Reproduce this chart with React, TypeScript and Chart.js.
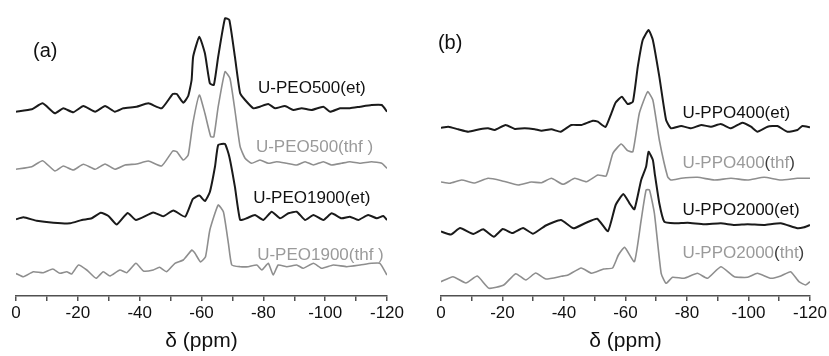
import React, { useEffect, useRef } from 'react';
import { Chart, registerables } from 'chart.js';

Chart.register(...registerables);

const FONT = '"Liberation Sans", Arial, Helvetica, sans-serif';
const BLACK_LINE = '#1a1a1a';
const GRAY_LINE = '#8e8e8e';
const BLACK_TEXT = '#111111';
const GRAY_TEXT = '#9a9a9a';
const PAREN_DARK = '#3c3c3c';

// x axis: chemical shift δ (ppm)
const X_MIN = -120;
const X_MAX = 0;
const X_STEP = 10;
const X_LABEL_STEP = 20;

// ---------- Panel (a) ----------
const peo500etPpm = [0, -5.1, -8.6, -12.6, -15.3, -18.5, -21.8, -25.6, -28.8, -32.0, -34.7, -39.0, -42.8, -47.1, -50.7, -52.0, -54.1, -55.7, -56.8, -57.3, -59.3, -61.1, -62.7, -64.0, -65.4, -67.6, -69.0, -70.8, -72.5, -74.1, -76.8, -78.9, -81.6, -83.8, -87.0, -89.7, -92.4, -95.6, -99.4, -101.6, -104.8, -108.0, -111.3, -115.0, -118.3, -120];
const peo500etInt = [-1.7, 0.7, 6.7, -3.3, 1.7, -2.3, 4, -1.7, 4, -1.7, 1.7, 3.3, 6.7, 1.7, 16, 16, 7.3, 14, 30, 53.3, 73.3, 56.7, 26.7, 25, 53.3, 91.7, 90, 53.3, 16.7, 10, 1.7, 3.3, 6, 1.7, 4, 0, 1.7, 0, 3.3, -1.7, 1.7, 1.7, 3.3, 5, 5, -1.7];

const peo500thfPpm = [0, -5.1, -8.6, -12.6, -15.3, -18.5, -21.8, -25.6, -28.8, -32.0, -35.3, -39.0, -42.8, -47.1, -50.7, -52.0, -54.1, -55.7, -57.2, -59.3, -61.1, -63.0, -64.0, -65.4, -67.6, -69.2, -70.8, -72.5, -74.1, -76.2, -78.9, -81.6, -84.3, -87.6, -90.8, -93.5, -96.2, -99.4, -102.1, -105.3, -108.0, -111.3, -115.0, -118.3, -120];
const peo500thfInt = [-3.3, -0.7, 5.3, -5, 0, -4, 1.7, -3.3, 2, -3.3, 1, 2, 5, 0, 15, 14.3, 6, 11, 42.7, 71, 52.7, 29.3, 29.3, 59.3, 94.3, 87.7, 56, 19.3, 7.7, 2.7, 6, 2.7, 4.3, 2.7, 1, 4.3, 1, 4.3, 1, 2.7, 4.3, 2.7, 4.3, 2.7, -2.3];

const peo1900etPpm = [0, -2.4, -6.7, -12.1, -17.5, -21.3, -24.5, -27.4, -29.9, -32.6, -36.1, -38.8, -44.4, -47.6, -50.9, -54.7, -57.2, -59.3, -61.1, -62.7, -64.4, -65.4, -67.6, -69.0, -70.8, -72.5, -74.6, -77.3, -80.0, -82.7, -85.4, -88.1, -90.8, -93.5, -96.2, -99.4, -102.1, -105.3, -108.0, -110.7, -113.9, -116.7, -118.8, -120];
const peo1900etInt = [-2.3, -0.3, -3.7, -5.7, -6.3, -3, -1.3, 4.3, 1, -7.5, 4, -3, 4.5, 0.7, 6.5, 0.3, 18, 21.5, 16, 25, 51, 72, 73, 60.3, 30.3, -3, -1.3, 2, -3, 5.3, -1.3, 3.7, 5.3, -3, 2, -3, 3.7, -1.3, 0.3, -3, 2, -1.3, 1, -3];

const peo1900thfPpm = [0, -2.4, -5.6, -8.8, -11.9, -14.2, -16.4, -18.0, -20.2, -22.9, -25.9, -28.2, -30.4, -33.6, -35.8, -38.8, -41.2, -44.4, -46.4, -48.7, -51.4, -54.1, -56.9, -57.9, -59.7, -61.3, -62.7, -65.4, -67.1, -68.7, -69.8, -72.5, -75.1, -77.9, -79.5, -81.6, -83.2, -84.8, -87.6, -90.8, -92.9, -96.2, -98.9, -102.6, -107.0, -111.3, -115.0, -117.7, -120];
const peo1900thfInt = [-5.5, -8.7, -3.7, -4.7, -1, -5.3, -3.7, -6, 3, -2, -10.3, -3.7, -8, -2, -4.7, 4.7, -3, -2, 0.7, -3.7, 4.7, 8, 18, 14.7, 6, 11.3, 38, 63, 56, 24.7, 3, 1.3, 1.3, 3, -2, 4.7, -7, 3, 1.3, 3, -0.3, 4.7, -0.3, 3, 1.3, 3, 4.7, 4.7, -7];

const panelAOffsets = [186, 130, 79, 28];

// ---------- Panel (b) ----------
const ppo400etPpm = [0, -2.4, -5.6, -8.9, -12.6, -15.3, -17.5, -21.0, -24.0, -27.2, -30.5, -32.7, -35.9, -38.9, -42.4, -45.6, -49.4, -51.0, -53.5, -55.4, -56.8, -58.8, -60.7, -62.4, -64.0, -65.6, -67.5, -68.9, -71.0, -73.2, -74.8, -78.1, -81.3, -84.6, -87.8, -91.0, -94.3, -98.0, -100.8, -102.9, -106.2, -109.4, -112.6, -115.9, -117.5, -120];
const ppo400etInt = [0.3, 1.3, -1.3, -3.7, -1.3, -0.3, -2, 3, -1, -0.3, -1.3, -2.7, -1.3, -3.7, 3, 3, 7.3, 6.3, 1, 14.7, 25.5, 31.3, 24, 26.3, 61.3, 88, 98, 88, 51.3, 8, -0.3, 2, -0.3, 3, 1.3, 4, -0.3, 5.3, 1.3, -3.7, 1.3, 2, -3.7, -2, 2, 0.7];

const ppo400thfPpm = [0, -2.9, -6.7, -11.0, -15.3, -19.7, -25.1, -29.4, -32.7, -35.9, -39.7, -43.5, -47.3, -51.0, -53.7, -55.9, -58.6, -60.7, -62.4, -64.5, -67.2, -68.9, -71.0, -73.7, -74.8, -78.1, -83.4, -88.9, -94.3, -99.7, -105.1, -110.5, -115.9, -120];
const ppo400thfInt = [-1, -2.3, 1, -2, 2.7, 0.3, -4, -1, -1.7, 2.7, -3.3, 2.7, -0.7, 6, 5, 27.7, 37, 30.3, 29.3, 67.7, 89.3, 81, 41, 4.3, 1, 2.7, 3.7, 1, 2.7, 1, 3.7, 1, 2.7, 2.7];

const ppo2000etPpm = [0, -3.2, -6.2, -10.5, -13.7, -17.2, -20.1, -23.2, -26.7, -29.9, -34.1, -39.0, -43.1, -47.0, -50.8, -54.3, -56.8, -59.3, -61.3, -62.9, -65.1, -66.7, -67.5, -68.9, -69.5, -71.0, -72.6, -75.9, -80.2, -85.6, -91.0, -95.4, -99.7, -105.1, -110.5, -115.9, -118.1, -120];
const ppo2000etInt = [-3.5, -6.5, 0, -6, -1.3, -8.7, -1, -5, 0, -5.7, 2.5, 8, -0.3, 5, 9.2, -3.2, 23, 34, 24.7, 18.7, 48, 61.3, 76.3, 68, 54.7, 24.7, 6.3, 4.7, 5.3, 3.7, 4.7, 3, 3.7, 3, 4.7, -0.3, 0.7, 3];

const ppo2000thtPpm = [0, -3.9, -8.1, -11.8, -15.6, -20.4, -24.3, -27.6, -30.8, -34.1, -39.1, -41.3, -45.6, -49.0, -52.9, -55.8, -57.7, -59.7, -62.9, -65.1, -66.7, -67.8, -69.4, -71.6, -73.2, -75.3, -79.1, -83.4, -86.7, -91.0, -95.4, -99.7, -102.9, -107.3, -110.5, -113.7, -116.4, -118.6, -120];
const ppo2000thtInt = [-3.7, 1.3, -5, 2, -10.3, -7, 4.3, -2, 5, -1, 1.7, 3, 10, 4.7, 9, 10, 23, 30.7, 16.3, 58, 88, 88, 64.7, 4.7, -5.3, 0.7, -0.3, 4.7, -0.3, 11.3, 1.3, 0.7, 4.7, -0.3, 2, 6.3, -3.7, -7, -3.7];

const panelBOffsets = [168, 115, 68, 18];

// ---------- helpers ----------
type Pt = { x: number; y: number };
function spectrum(ppm: number[], inten: number[], offset: number): Pt[] {
  const n = Math.min(ppm.length, inten.length);
  const out: Pt[] = [];
  for (let i = 0; i < n; i++) out.push({ x: ppm[i], y: offset + inten[i] });
  return out;
}

type Label = { ppm: number; y: number; size: number; parts: [string, string][] };

interface PanelCfg {
  width: number;
  padLeft: number;
  padRight: number;
  series: { data: Pt[]; color: string; width: number }[];
  labels: Label[];
}

const panelA: PanelCfg = {
  width: 415,
  padLeft: 16,
  padRight: 28,
  series: [
    { data: spectrum(peo500etPpm, peo500etInt, panelAOffsets[0]), color: BLACK_LINE, width: 2 },
    { data: spectrum(peo500thfPpm, peo500thfInt, panelAOffsets[1]), color: GRAY_LINE, width: 1.6 },
    { data: spectrum(peo1900etPpm, peo1900etInt, panelAOffsets[2]), color: BLACK_LINE, width: 2 },
    { data: spectrum(peo1900thfPpm, peo1900thfInt, panelAOffsets[3]), color: GRAY_LINE, width: 1.6 },
  ],
  labels: [
    { ppm: -5.5, y: 245, size: 20, parts: [['(a)', BLACK_TEXT]] },
    { ppm: -78.3, y: 208, size: 17, parts: [['U-PEO500(et)', BLACK_TEXT]] },
    { ppm: -77.6, y: 149, size: 17, parts: [['U-PEO500(thf )', GRAY_TEXT]] },
    { ppm: -76.7, y: 98, size: 17, parts: [['U-PEO1900(et)', BLACK_TEXT]] },
    { ppm: -78.0, y: 41, size: 17, parts: [['U-PEO1900(thf )', GRAY_TEXT]] },
  ],
};

const panelB: PanelCfg = {
  width: 414,
  padLeft: 26,
  padRight: 18,
  series: [
    { data: spectrum(ppo400etPpm, ppo400etInt, panelBOffsets[0]), color: BLACK_LINE, width: 2 },
    { data: spectrum(ppo400thfPpm, ppo400thfInt, panelBOffsets[1]), color: GRAY_LINE, width: 1.6 },
    { data: spectrum(ppo2000etPpm, ppo2000etInt, panelBOffsets[2]), color: BLACK_LINE, width: 2 },
    { data: spectrum(ppo2000thtPpm, ppo2000thtInt, panelBOffsets[3]), color: GRAY_LINE, width: 1.6 },
  ],
  labels: [
    { ppm: 1.0, y: 253, size: 20, parts: [['(b)', BLACK_TEXT]] },
    { ppm: -78.5, y: 183, size: 17, parts: [['U-PPO400(et)', BLACK_TEXT]] },
    { ppm: -78.5, y: 133, size: 17, parts: [['U-PPO400', GRAY_TEXT], ['(', PAREN_DARK], ['thf', GRAY_TEXT], [')', PAREN_DARK]] },
    { ppm: -78.5, y: 86, size: 17, parts: [['U-PPO2000(et)', BLACK_TEXT]] },
    { ppm: -78.5, y: 43, size: 17, parts: [['U-PPO2000', GRAY_TEXT], ['(', PAREN_DARK], ['tht', GRAY_TEXT], [')', PAREN_DARK]] },
  ],
};

function makeLabelPlugin(labels: Label[]) {
  return {
    id: 'specLabels',
    afterDatasetsDraw(chart: any) {
      const { ctx } = chart;
      const xs = chart.scales.x;
      const ys = chart.scales.y;
      ctx.save();
      ctx.textBaseline = 'middle';
      ctx.textAlign = 'left';
      for (const lab of labels) {
        ctx.font = `${lab.size}px ${FONT}`;
        let px = xs.getPixelForValue(lab.ppm);
        const py = ys.getPixelForValue(lab.y);
        for (const [t, c] of lab.parts) {
          ctx.fillStyle = c;
          ctx.fillText(t, px, py);
          px += ctx.measureText(t).width;
        }
      }
      ctx.restore();
    },
  };
}

function Panel({ cfg }: { cfg: PanelCfg }) {
  const ref = useRef<HTMLCanvasElement | null>(null);
  useEffect(() => {
    if (!ref.current) return;
    const chart = new Chart(ref.current, {
      type: 'line',
      data: {
        datasets: cfg.series.map((s) => ({
          data: s.data,
          borderColor: s.color,
          borderWidth: s.width,
          pointRadius: 0,
          fill: false,
          tension: 0.15,
        })),
      },
      options: {
        animation: false,
        responsive: false,
        maintainAspectRatio: false,
        layout: { padding: { left: cfg.padLeft, right: cfg.padRight, top: 6, bottom: 0 } },
        plugins: { legend: { display: false }, tooltip: { enabled: false } },
        scales: {
          x: {
            type: 'linear',
            min: X_MIN,
            max: X_MAX,
            reverse: true,
            afterFit: (scale: any) => {
              scale.height = 60;
            },
            border: { display: true, color: '#505050', width: 1.5 },
            grid: {
              display: true,
              drawOnChartArea: false,
              drawTicks: true,
              tickLength: 5,
              color: '#505050',
              lineWidth: 1.5,
            },
            ticks: {
              stepSize: X_STEP,
              autoSkip: false,
              maxRotation: 0,
              padding: 2,
              color: '#111111',
              font: { family: FONT, size: 17 },
              callback: (v: any) => (Math.round(Number(v)) % X_LABEL_STEP === 0 ? String(Math.round(Number(v))) : ''),
            },
            title: {
              display: true,
              text: 'δ (ppm)',
              color: '#111111',
              font: { family: FONT, size: 21 },
              padding: { top: 0, bottom: 2 },
            },
          },
          y: { type: 'linear', display: false, min: 0, max: 290 },
        },
      },
      plugins: [makeLabelPlugin(cfg.labels)],
    } as any);
    return () => chart.destroy();
  }, [cfg]);
  return <canvas ref={ref} width={cfg.width} height={356} style={{ display: 'block' }} />;
}

export default function App() {
  return (
    <div
      style={{
        position: 'absolute',
        left: 0,
        top: 0,
        width: 829,
        height: 356,
        display: 'flex',
        background: '#ffffff',
      }}
    >
      <Panel cfg={panelA} />
      <Panel cfg={panelB} />
    </div>
  );
}
